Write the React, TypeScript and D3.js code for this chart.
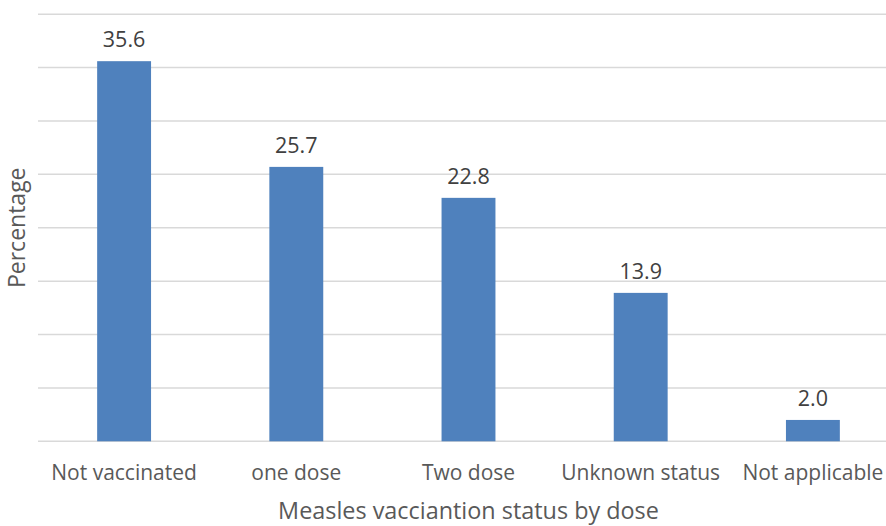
import React from "react";
import * as d3 from "d3";

const categories = ["Not vaccinated", "one dose", "Two dose", "Unknown status", "Not applicable"];
const values = [35.6, 25.7, 22.8, 13.9, 2.0];
const yTicks = [0, 5, 10, 15, 20, 25, 30, 35, 40];
const xTitle = "Measles vacciantion status by dose";
const yTitle = "Percentage";

export default function App() {
  const W = 886, H = 526;
  const left = 38, right = 899, top = 14.2, bottom = 441.3;
  const x = d3.scaleBand<string>().domain(categories).range([left, right]).paddingInner(0.687).paddingOuter(0.3435);
  const y = d3.scaleLinear().domain([0, 40]).range([bottom, top]);
  const font = "'Open Sans', sans-serif";
  const txt = "#595959";
  return (
    <svg width={W} height={H} style={{ position: "absolute", left: 0, top: 0 }} fontFamily={font}>
      <rect width={W} height={H} fill="#fff" />
      {yTicks.map((t) => (
        <line key={t} x1={left} x2={W} y1={y(t)} y2={y(t)} stroke="#D9D9D9" strokeWidth={1.5} />
      ))}
      {categories.map((c, i) => (
        <g key={c}>
          <rect x={x(c)} y={y(values[i])} width={x.bandwidth()} height={bottom - y(values[i])} fill="#4F81BD" />
          <text x={x(c)! + x.bandwidth() / 2} y={y(values[i]) - 14} textAnchor="middle" fontSize={21.5} fill="#404040">
            {values[i].toFixed(1)}
          </text>
          <text x={x(c)! + x.bandwidth() / 2} y={480} textAnchor="middle" fontSize={21} fill={txt}>
            {c}
          </text>
        </g>
      ))}
      <text x={(left + right) / 2} y={519} textAnchor="middle" fontSize={23.4} fill={txt}>
        {xTitle}
      </text>
      <text transform={`translate(25,${(top + bottom) / 2}) rotate(-90)`} textAnchor="middle" fontSize={23} fill={txt}>
        {yTitle}
      </text>
    </svg>
  );
}
